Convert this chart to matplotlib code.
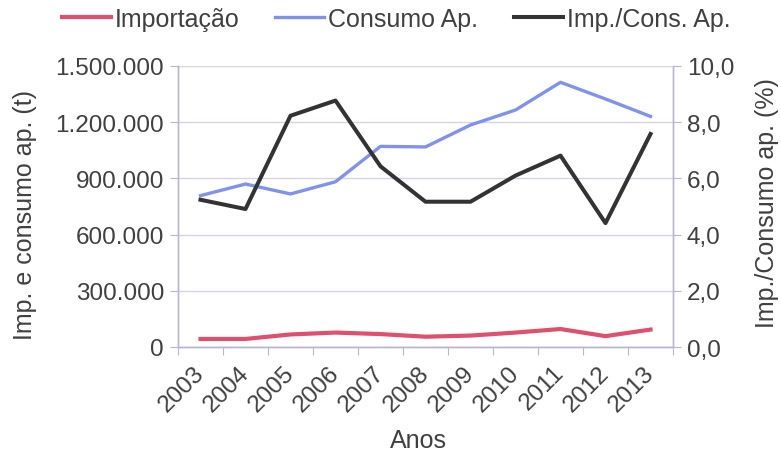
import numpy as np
import matplotlib.pyplot as plt
from matplotlib.ticker import FuncFormatter

plt.rcParams['font.family'] = ['Liberation Sans', 'DejaVu Sans']

anos = ['2003', '2004', '2005', '2006', '2007', '2008', '2009', '2010', '2011', '2012', '2013']
importacao = [43000, 43000, 67000, 77000, 69000, 55000, 61000, 77000, 96000, 58000, 93000]
consumo = [808000, 870000, 817000, 882000, 1071000, 1068000, 1185000, 1265000, 1413000, 1324000, 1231000]
imp_cons = [5.24, 4.91, 8.23, 8.77, 6.43, 5.17, 5.17, 6.10, 6.81, 4.41, 7.58]

txt = '#404040'
eixo = '#bcb4d2'
grade = '#d8d2e6'
fs_tick = 17.5
fs = 18

x = np.arange(len(anos))

fig = plt.figure(figsize=(7.81, 4.56), dpi=100)
ax = fig.add_axes([178 / 781, 1 - 348 / 456, 495 / 781, 281 / 456])
ax2 = ax.twinx()

l1, = ax.plot(x, importacao, color='#e0506e', lw=3, label='Importação')
l2, = ax.plot(x, consumo, color='#7f93ee', lw=2.4, label='Consumo Ap.')
l3, = ax2.plot(x, imp_cons, color='#333333', lw=2.9, label='Imp./Cons. Ap.')

ax.set_xlim(-0.5, len(anos) - 0.5)
ax.set_ylim(0, 1500000)
ax2.set_ylim(0, 10)
ax.set_yticks(np.arange(0, 1500001, 300000))
ax2.set_yticks(np.arange(0, 10.1, 2))
ax.yaxis.set_major_formatter(FuncFormatter(lambda v, p: f'{int(v):,}'.replace(',', '.')))
ax2.yaxis.set_major_formatter(FuncFormatter(lambda v, p: f'{v:.1f}'.replace('.', ',')))

# marcas nas divisas das categorias, rótulos no centro
ax.set_xticks(np.arange(-0.5, len(anos), 1))
ax.set_xticklabels([])
ax.set_xticks(x, minor=True)
ax.set_xticklabels(anos, minor=True, rotation=45, ha='right', va='center',
                   rotation_mode='anchor', fontsize=fs_tick, color=txt)
ax.tick_params(axis='x', which='minor', length=0, pad=16)
ax.tick_params(axis='x', which='major', length=6, color=eixo, direction='out')

ax.tick_params(axis='y', length=6, color=eixo, labelsize=fs_tick, labelcolor=txt, pad=4)
ax2.tick_params(axis='y', length=6, color=eixo, labelsize=fs_tick, labelcolor=txt, pad=4)

ax.grid(axis='y', color=grade, lw=1)
ax.set_axisbelow(True)
for a in (ax, ax2):
    a.spines['top'].set_visible(False)
    for s in ('left', 'right', 'bottom'):
        a.spines[s].set_color(eixo)
        a.spines[s].set_linewidth(1)

ax.set_ylabel('Imp. e consumo ap. (t)', fontsize=fs, color=txt)
ax.yaxis.set_label_coords(-0.285, 0.473)
ax2.set_ylabel('Imp./Consumo ap. (%)', fontsize=fs, color=txt)
ax2.yaxis.set_label_coords(1.166, 0.516)
ax.set_xlabel('Anos', fontsize=fs, color=txt)
ax.xaxis.set_label_coords(0.485, -0.29)

leg = fig.legend(handles=[l1, l2, l3], loc='center', bbox_to_anchor=(396 / 781, 1 - 20 / 456),
                 ncol=3, frameon=False, fontsize=fs, handlelength=1.95, handletextpad=0.15,
                 columnspacing=1.45, borderaxespad=0, borderpad=0)
for t in leg.get_texts():
    t.set_color(txt)

fig.savefig('out.png', dpi=100, facecolor='white')
